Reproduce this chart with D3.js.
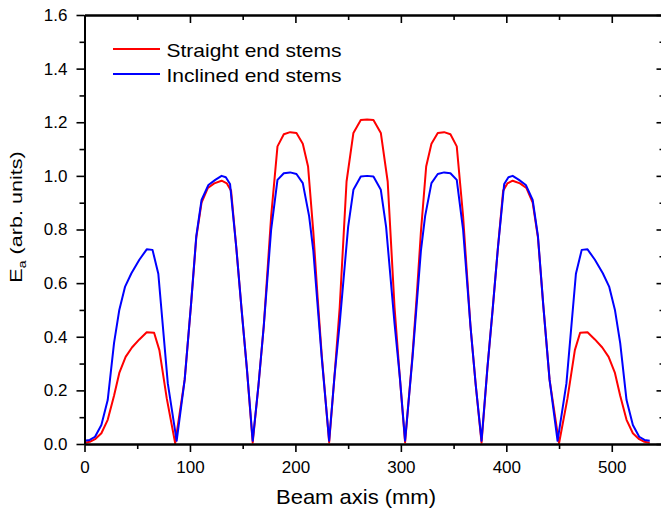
<!DOCTYPE html>
<html>
<head>
<meta charset="utf-8">
<script src="https://cdn.jsdelivr.net/npm/d3@7"></script>
<style>
  body { margin: 0; background: #fff; }
  svg text { font-family: "Liberation Sans", Arial, sans-serif; fill: #000; }
</style>
</head>
<body>
<svg id="chart" width="661" height="510"></svg>
<script>
// beam axis position (mm) and field for the straight end stems
const straightPos = [0, 5, 10, 16, 22, 28, 33, 39, 45, 52, 59, 66, 71, 78, 86,
  95, 101, 106, 111, 117, 123, 130, 135, 139, 144, 149, 154, 159.5,
  165, 170, 177, 183, 189, 195, 201, 207, 212, 217, 221, 225, 232,
  237, 242, 248.5, 255, 262, 268, 274, 281, 287.5, 294, 299, 304,
  311, 315, 319, 324, 329, 335, 341, 347, 353, 359, 366, 371, 376.5,
  382, 387, 392, 397, 401, 406, 413, 419, 425, 430, 435, 441, 450,
  458, 465, 470, 477, 484, 491, 497, 503, 508, 514, 520, 526, 531, 536];
const straightVal = [0.005, 0.008, 0.018, 0.04, 0.09, 0.18, 0.265, 0.325, 0.36, 0.39, 0.417, 0.415, 0.35, 0.17, 0.003,
  0.24, 0.52, 0.77, 0.9, 0.955, 0.972, 0.982, 0.972, 0.945, 0.73, 0.5, 0.28, 0.005,
  0.22, 0.44, 0.85, 1.11, 1.155, 1.163, 1.16, 1.12, 1.035, 0.79, 0.55, 0.33, 0.006,
  0.25, 0.51, 0.979, 1.16, 1.208, 1.21, 1.208, 1.16, 0.979, 0.51, 0.25, 0.006,
  0.33, 0.55, 0.79, 1.035, 1.12, 1.16, 1.163, 1.155, 1.11, 0.85, 0.44, 0.22, 0.005,
  0.28, 0.5, 0.73, 0.945, 0.972, 0.982, 0.972, 0.955, 0.9, 0.77, 0.52, 0.24, 0.003,
  0.17, 0.35, 0.415, 0.417, 0.39, 0.36, 0.325, 0.265, 0.18, 0.09, 0.04, 0.018, 0.008, 0.005];

// same for the inclined end stems
const inclinedPos = [0, 5, 10, 16, 22, 28, 33, 38.5, 44.5, 52, 59, 64.5, 70, 79, 87.4,
  95, 101, 106, 111, 117.5, 124, 130, 134, 138, 144, 149, 154, 159.5,
  165, 170, 177, 183, 189, 195, 201, 207, 213, 217, 221, 225, 232,
  237, 242, 250, 255, 262, 268, 274, 281, 286, 294, 299, 304,
  311, 315, 319, 323, 329, 335, 341, 347, 353, 359, 366, 371, 376.5,
  382, 387, 392, 398, 402, 406, 412, 418.5, 425, 430, 435, 441, 448.6,
  457, 466, 471.5, 477, 484, 491.5, 497.5, 503, 508, 514, 520, 526, 531, 536];
const inclinedVal = [0.012, 0.015, 0.027, 0.071, 0.164, 0.376, 0.5, 0.587, 0.637, 0.687, 0.726, 0.724, 0.635, 0.226, 0.012,
  0.24, 0.52, 0.775, 0.91, 0.966, 0.985, 1.0, 0.995, 0.97, 0.73, 0.5, 0.28, 0.012,
  0.22, 0.44, 0.8, 0.985, 1.01, 1.013, 1.007, 0.973, 0.85, 0.72, 0.52, 0.32, 0.012,
  0.25, 0.45, 0.81, 0.948, 0.998, 1.0, 0.998, 0.948, 0.81, 0.45, 0.25, 0.012,
  0.32, 0.52, 0.72, 0.85, 0.973, 1.007, 1.013, 1.01, 0.985, 0.8, 0.44, 0.22, 0.012,
  0.28, 0.5, 0.73, 0.97, 0.995, 1.0, 0.985, 0.966, 0.91, 0.775, 0.52, 0.24, 0.012,
  0.226, 0.635, 0.724, 0.726, 0.687, 0.637, 0.587, 0.5, 0.376, 0.164, 0.071, 0.027, 0.015, 0.012];

const seriesNames = ["Straight end stems", "Inclined end stems"];
const seriesColors = ["#ff0000", "#0000ff"];
const xTicks = [0, 100, 200, 300, 400, 500];
const xMinor = [50, 150, 250, 350, 450, 550];
const yTicks = [0, 0.2, 0.4, 0.6, 0.8, 1.0, 1.2, 1.4, 1.6];
const yMinor = [0.1, 0.3, 0.5, 0.7, 0.9, 1.1, 1.3, 1.5];

const margin = { top: 15, left: 84.5 };
const width = 580;
const height = 429;

const svg = d3.select("#chart");
const g = svg.append("g")
  .attr("transform", "translate(" + margin.left + "," + margin.top + ")");

const x = d3.scaleLinear().domain([0, 550]).range([0, width]);
const y = d3.scaleLinear().domain([0, 1.6]).range([height, 0]);

// curves
const line = d3.line()
  .x(d => x(d[0]))
  .y(d => y(d[1]));

const series = [
  d3.zip(straightPos, straightVal),
  d3.zip(inclinedPos, inclinedVal)
];

series.forEach((pts, i) => {
  g.append("path")
    .datum(pts)
    .attr("fill", "none")
    .attr("stroke", seriesColors[i])
    .attr("stroke-width", 2)
    .attr("stroke-linejoin", "round")
    .attr("d", line);
});

// axes: bottom/left labelled, top/right mirrored with inward ticks
function styleAxis(sel) {
  sel.select(".domain").attr("stroke", "#000").attr("stroke-width", 2);
  sel.selectAll(".tick line").attr("stroke", "#000").attr("stroke-width", 1.6);
  sel.selectAll("text").style("font-size", "17px").attr("fill", "#000");
}

g.append("g")
  .attr("transform", "translate(0," + height + ")")
  .call(d3.axisBottom(x).tickValues(xMinor).tickSize(5).tickFormat("").tickSizeOuter(0))
  .call(styleAxis);
g.append("g")
  .attr("transform", "translate(0," + height + ")")
  .call(d3.axisBottom(x).tickValues(xTicks).tickSize(8).tickPadding(9).tickSizeOuter(0))
  .call(styleAxis);

g.append("g")
  .call(d3.axisLeft(y).tickValues(yMinor).tickSize(5).tickFormat("").tickSizeOuter(0))
  .call(styleAxis);
g.append("g")
  .call(d3.axisLeft(y).tickValues(yTicks).tickSize(8).tickPadding(9).tickSizeOuter(0).tickFormat(d3.format(".1f")))
  .call(styleAxis);

g.append("g")
  .call(d3.axisBottom(x).tickValues(xMinor).tickSize(5).tickFormat("").tickSizeOuter(0))
  .call(styleAxis);
g.append("g")
  .call(d3.axisBottom(x).tickValues(xTicks).tickSize(8).tickFormat("").tickSizeOuter(0))
  .call(styleAxis);

g.append("g")
  .attr("transform", "translate(" + width + ",0)")
  .call(d3.axisLeft(y).tickValues(yMinor).tickSize(5).tickFormat("").tickSizeOuter(0))
  .call(styleAxis);
g.append("g")
  .attr("transform", "translate(" + width + ",0)")
  .call(d3.axisLeft(y).tickValues(yTicks).tickSize(8).tickFormat("").tickSizeOuter(0))
  .call(styleAxis);

// axis titles
svg.append("text")
  .attr("x", 356)
  .attr("y", 504)
  .attr("text-anchor", "middle")
  .attr("textLength", 160)
  .attr("lengthAdjust", "spacingAndGlyphs")
  .style("font-size", "21px")
  .text("Beam axis (mm)");

// the y title is drawn a little stretched along its length, as in the original
const yTitle = svg.append("text")
  .attr("transform", "translate(22,217) rotate(-90) scale(1.27,1)")
  .attr("text-anchor", "middle")
  .style("font-size", "17px");
yTitle.append("tspan").text("E");
yTitle.append("tspan").attr("dy", 4).style("font-size", "11px").text("a");
yTitle.append("tspan").attr("dy", -4).text(" (arb. units)");

// legend
const legend = svg.append("g");
seriesNames.forEach((name, i) => {
  const ly = 49 + i * 25;
  legend.append("line")
    .attr("x1", 113).attr("x2", 160)
    .attr("y1", ly).attr("y2", ly)
    .attr("stroke", seriesColors[i])
    .attr("stroke-width", 2);
  legend.append("text")
    .attr("x", 166.5)
    .attr("y", ly + 7.5)
    .attr("textLength", 175)
    .attr("lengthAdjust", "spacingAndGlyphs")
    .style("font-size", "19px")
    .text(name);
});
</script>
</body>
</html>
